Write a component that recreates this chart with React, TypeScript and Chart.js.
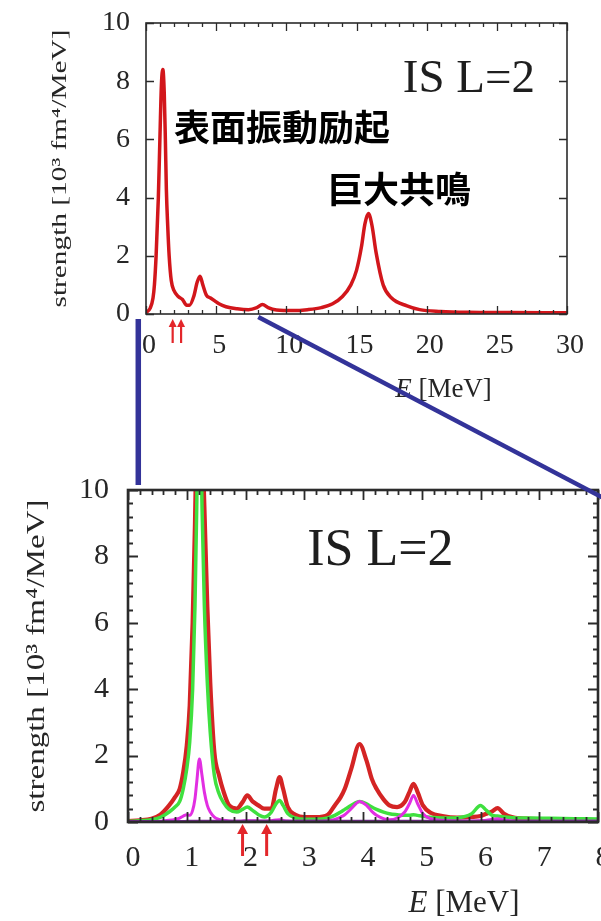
import React, { useEffect, useRef } from "react";
import { Chart, registerables } from "chart.js";

Chart.register(...registerables);

// ---- Overview spectrum, 0–30 MeV ----
const overviewE = [
  0.0, 0.3, 0.5, 0.6, 0.72, 0.88, 1.0, 1.1, 1.2, 1.3, 1.38, 1.45, 1.55, 1.65, 1.8, 2.0,
  2.3, 2.6, 2.9, 3.1, 3.4, 3.65, 3.85, 4.05, 4.3, 4.6, 4.9, 5.2, 5.7, 6.5, 7.3, 7.9,
  8.3, 8.7, 9.3, 10.5, 11.5, 12.5, 13.3, 14.0, 14.6, 15.0, 15.35, 15.6, 15.85, 16.1,
  16.4, 16.9, 17.5, 18.6, 19.5, 21, 23, 26, 30,
];
const overviewStrength = [
  0.05, 0.2, 0.55, 1.0, 2.0, 4.0, 6.2, 7.9, 8.4, 7.6, 6.0, 4.3, 3.0, 2.0, 1.15, 0.8,
  0.6, 0.5, 0.3, 0.3, 0.6, 1.1, 1.3, 1.0, 0.65, 0.55, 0.45, 0.35, 0.25, 0.18, 0.15, 0.22,
  0.33, 0.22, 0.14, 0.12, 0.15, 0.22, 0.35, 0.6, 1.0, 1.5, 2.3, 3.1, 3.45, 3.05,
  2.1, 1.0, 0.55, 0.28, 0.15, 0.09, 0.06, 0.05, 0.04,
];
const overviewArrowE = [1.9, 2.5];
const overviewXTicks = [0, 5, 10, 15, 20, 25, 30];

// ---- Low-energy detail, 0–8 MeV ----
const zoomE = [
  0.0, 0.2, 0.4, 0.55, 0.7, 0.8, 0.88, 0.94, 1.0, 1.05, 1.1, 1.14, 1.17, 1.215, 1.26, 1.3,
  1.35, 1.4, 1.47, 1.55, 1.62, 1.72, 1.85, 1.95, 2.03, 2.12, 2.22, 2.32, 2.44, 2.52, 2.58,
  2.64, 2.72, 2.85, 3.0, 3.2, 3.4, 3.52, 3.62, 3.69, 3.8, 3.94, 4.06, 4.15, 4.23, 4.35,
  4.45, 4.58, 4.71, 4.79, 4.86, 4.93, 5.02, 5.15, 5.35, 5.6, 5.85, 6.0, 6.1, 6.2, 6.29,
  6.4, 6.55, 6.8, 7.2, 7.6, 8.0,
];
const zoomTotal = [
  0.03, 0.05, 0.1, 0.22, 0.5, 0.75, 1.0, 1.5, 2.3, 3.5, 6.0, 9.0, 12, 16, 12, 9.5,
  6.5, 4.2, 2.1, 1.4, 0.95, 0.5, 0.4, 0.6, 0.8, 0.62, 0.5, 0.4, 0.4, 1.0, 1.35,
  1.0, 0.45, 0.22, 0.15, 0.15, 0.22, 0.5, 0.75, 1.0, 1.6, 2.35, 1.85, 1.3, 1.0, 0.68,
  0.5, 0.45, 0.6, 0.9, 1.15, 0.9, 0.5, 0.28, 0.18, 0.13, 0.15, 0.18, 0.25, 0.32, 0.42,
  0.25, 0.14, 0.1, 0.08, 0.06, 0.05,
];
const zoomGreen = [
  0.02, 0.04, 0.07, 0.14, 0.3, 0.45, 0.62, 1.0, 1.6, 2.4, 4.0, 6.5, 9.5, 15, 9.5, 6.5,
  4.2, 2.7, 1.4, 0.85, 0.6, 0.38, 0.3, 0.38, 0.45, 0.35, 0.22, 0.15, 0.3, 0.55, 0.65,
  0.5, 0.25, 0.12, 0.08, 0.08, 0.12, 0.2, 0.3, 0.38, 0.5, 0.62, 0.55, 0.45, 0.38, 0.3,
  0.25, 0.22, 0.2, 0.2, 0.22, 0.2, 0.17, 0.14, 0.12, 0.13, 0.25, 0.5, 0.35, 0.2, 0.18,
  0.15, 0.13, 0.12, 0.11, 0.1, 0.09,
];
const zoomMagenta = [
  0.0, 0.0, 0.01, 0.02, 0.05, 0.08, 0.12, 0.18, 0.22, 0.2, 0.35, 0.7, 1.2, 1.9, 1.4, 0.9,
  0.5, 0.3, 0.15, 0.08, 0.05, 0.03, 0.02, 0.03, 0.04, 0.04, 0.03, 0.03, 0.04, 0.06, 0.07,
  0.05, 0.03, 0.02, 0.02, 0.02, 0.04, 0.08, 0.15, 0.22, 0.4, 0.62, 0.5, 0.32, 0.2, 0.1,
  0.07, 0.12, 0.3, 0.55, 0.8, 0.55, 0.25, 0.1, 0.05, 0.03, 0.03, 0.04, 0.05, 0.08, 0.1,
  0.06, 0.03, 0.02, 0.02, 0.02, 0.02,
];
const zoomPurple = [
  0.02, 0.02, 0.02, 0.02, 0.02, 0.02, 0.02, 0.02, 0.03, 0.03, 0.03, 0.03, 0.03, 0.03, 0.03, 0.03,
  0.03, 0.03, 0.03, 0.03, 0.03, 0.03, 0.03, 0.03, 0.03, 0.03, 0.03, 0.03, 0.03, 0.03, 0.03,
  0.03, 0.03, 0.03, 0.03, 0.03, 0.03, 0.03, 0.03, 0.03, 0.03, 0.03, 0.03, 0.03, 0.03, 0.03,
  0.03, 0.03, 0.03, 0.03, 0.03, 0.03, 0.03, 0.03, 0.03, 0.03, 0.03, 0.03, 0.03, 0.03, 0.03,
  0.03, 0.03, 0.03, 0.03, 0.03, 0.03,
];
const zoomArrowE = [1.95, 2.36];
const zoomXTicks = [0, 1, 2, 3, 4, 5, 6, 7, 8];

const strengthTicks = [0, 2, 4, 6, 8, 10];
const yTitle = "strength [10³ fm⁴/MeV]";
const channelLabel = "IS L=2";
const surfaceLabel = "表面振動励起";
const giantLabel = "巨大共鳴";

const SERIF = "'Liberation Serif', 'Times New Roman', serif";
const CJK = "'Noto Sans CJK JP', 'Noto Sans CJK SC', sans-serif";
const BOTTOM_TOP = 430; // page offset of the detail panel's canvas
const TEXT = "#262626";

type Decor = {
  xMajorStep: number;
  xMinorStep: number;
  yMajorStep: number;
  yMinorStep: number;
  majorLen: number;
  minorLen: number;
  tickWidth: number;
  frameWidth: number;
  titleX: number; // offset left of the chart area
  titleSize: number;
  titleLength: number;
  xTitleDy: number; // below the chart area
  xTitleDx: number; // from chart area centre
  xTitleSize: number;
  arrows: number[];
  arrowTip: number;
  arrowTail: number;
  arrowHead: number;
  arrowHalf: number;
  arrowWidth: number;
  channel: { x: number; y: number; size: number };
  notes?: { text: string; x: number; y: number; size: number }[];
};

const isMultiple = (v: number, step: number) =>
  Math.abs(v / step - Math.round(v / step)) < 1e-6;

function decorPlugin(id: string, d: Decor) {
  return {
    id,
    afterDatasetsDraw(chart: any) {
      const { ctx, chartArea: a } = chart;
      const x = chart.scales.x;
      const y = chart.scales.y;
      ctx.save();
      // inward tick marks on all four sides
      ctx.strokeStyle = "#2b2b2b";
      ctx.lineWidth = d.tickWidth;
      ctx.beginPath();
      for (let v = x.min; v <= x.max + 1e-9; v += d.xMinorStep) {
        const len = isMultiple(v, d.xMajorStep) ? d.majorLen : d.minorLen;
        const px = Math.round(x.getPixelForValue(v)) + 0.5;
        ctx.moveTo(px, a.bottom);
        ctx.lineTo(px, a.bottom - len);
        ctx.moveTo(px, a.top);
        ctx.lineTo(px, a.top + len);
      }
      for (let v = y.min; v <= y.max + 1e-9; v += d.yMinorStep) {
        const len = isMultiple(v, d.yMajorStep) ? d.majorLen : d.minorLen;
        const py = Math.round(y.getPixelForValue(v)) + 0.5;
        ctx.moveTo(a.left, py);
        ctx.lineTo(a.left + len, py);
        ctx.moveTo(a.right, py);
        ctx.lineTo(a.right - len, py);
      }
      ctx.stroke();
      ctx.lineWidth = d.frameWidth;
      ctx.strokeRect(a.left, a.top, a.right - a.left, a.bottom - a.top);
      ctx.restore();
    },
    afterDraw(chart: any) {
      const { ctx, chartArea: a } = chart;
      const x = chart.scales.x;
      const y = chart.scales.y;
      ctx.save();

      // rotated axis title, set to a fixed run length
      ctx.fillStyle = TEXT;
      ctx.font = `${d.titleSize}px ${SERIF}`;
      const w = ctx.measureText(yTitle).width;
      ctx.translate(a.left - d.titleX, (a.top + a.bottom) / 2);
      ctx.rotate(-Math.PI / 2);
      ctx.scale(d.titleLength / w, 1);
      ctx.textAlign = "center";
      ctx.textBaseline = "middle";
      ctx.fillText(yTitle, 0, 0);
      ctx.setTransform(1, 0, 0, 1, 0, 0);

      // horizontal axis title: italic E followed by the unit
      const italic = `italic ${d.xTitleSize}px ${SERIF}`;
      const upright = `${d.xTitleSize}px ${SERIF}`;
      const unit = " [MeV]";
      ctx.font = italic;
      const wE = ctx.measureText("E").width;
      ctx.font = upright;
      const wU = ctx.measureText(unit).width;
      const x0 = (a.left + a.right) / 2 + d.xTitleDx - (wE + wU) / 2;
      const ty = a.bottom + d.xTitleDy;
      ctx.textAlign = "left";
      ctx.textBaseline = "middle";
      ctx.font = italic;
      ctx.fillText("E", x0, ty);
      ctx.font = upright;
      ctx.fillText(unit, x0 + wE, ty);

      // level arrows below the energy axis
      ctx.strokeStyle = "#e3262a";
      ctx.fillStyle = "#e3262a";
      ctx.lineWidth = d.arrowWidth;
      for (const e of d.arrows) {
        const px = x.getPixelForValue(e);
        const tip = a.bottom + d.arrowTip;
        ctx.beginPath();
        ctx.moveTo(px, a.bottom + d.arrowTail);
        ctx.lineTo(px, tip + d.arrowHead - 1);
        ctx.stroke();
        ctx.beginPath();
        ctx.moveTo(px, tip);
        ctx.lineTo(px - d.arrowHalf, tip + d.arrowHead);
        ctx.lineTo(px + d.arrowHalf, tip + d.arrowHead);
        ctx.closePath();
        ctx.fill();
      }

      // channel label
      ctx.fillStyle = "#1e1e1e";
      ctx.font = `${d.channel.size}px ${SERIF}`;
      ctx.textAlign = "left";
      ctx.textBaseline = "alphabetic";
      ctx.fillText(channelLabel, x.getPixelForValue(d.channel.x), y.getPixelForValue(d.channel.y));

      // annotations
      for (const n of d.notes ?? []) {
        ctx.fillStyle = "#000";
        ctx.font = `bold ${n.size}px ${CJK}`;
        ctx.textAlign = "left";
        ctx.textBaseline = "middle";
        ctx.fillText(n.text, x.getPixelForValue(n.x), y.getPixelForValue(n.y));
      }
      ctx.restore();
    },
  };
}

function axisTicks(values: number[]) {
  return (s: any) => {
    s.ticks = values.map((v) => ({ value: v }));
  };
}

function fixed(prop: "width" | "height", size: number) {
  return (s: any) => {
    s[prop] = size;
    s.paddingLeft = 0;
    s.paddingRight = 0;
    s.paddingTop = 0;
    s.paddingBottom = 0;
  };
}

const points = (xs: number[], ys: number[]) => xs.map((e, i) => ({ x: e, y: ys[i] }));

function line(data: number[], color: string, width: number, order: number) {
  return {
    data: points(zoomE, data),
    borderColor: color,
    borderWidth: width,
    pointRadius: 0,
    fill: false,
    cubicInterpolationMode: "monotone" as const,
    order,
  };
}

export default function App() {
  const topRef = useRef<HTMLCanvasElement>(null);
  const botRef = useRef<HTMLCanvasElement>(null);
  const overlayRef = useRef<HTMLCanvasElement>(null);

  useEffect(() => {
    const tickFont = (size: number) => ({ family: SERIF, size });

    const top = new Chart(topRef.current!, {
      type: "line",
      data: {
        datasets: [
          {
            data: points(overviewE, overviewStrength),
            borderColor: "#d2161b",
            borderWidth: 3.5,
            pointRadius: 0,
            fill: false,
            cubicInterpolationMode: "monotone",
          },
        ],
      },
      options: {
        responsive: false,
        animation: false,
        devicePixelRatio: 1,
        layout: { padding: { left: 0, top: 23, right: 34, bottom: 0 } },
        plugins: { legend: { display: false }, tooltip: { enabled: false } },
        scales: {
          x: {
            type: "linear",
            min: 0,
            max: 30,
            afterFit: fixed("height", 106),
            afterBuildTicks: axisTicks(overviewXTicks),
            grid: { display: false, drawTicks: false },
            border: { display: false },
            ticks: { font: tickFont(28), color: TEXT, padding: 15, labelOffset: 3, autoSkip: false, maxRotation: 0 },
          },
          y: {
            type: "linear",
            min: 0,
            max: 10,
            afterFit: fixed("width", 146),
            afterBuildTicks: axisTicks(strengthTicks),
            grid: { display: false, drawTicks: false },
            border: { display: false },
            ticks: { font: tickFont(28), color: TEXT, padding: 16 },
          },
        },
      },
      plugins: [
        decorPlugin("overviewDecor", {
          xMajorStep: 5,
          xMinorStep: 1,
          yMajorStep: 2,
          yMinorStep: 2,
          majorLen: 8,
          minorLen: 4,
          tickWidth: 1.3,
          frameWidth: 1.6,
          titleX: 86,
          titleSize: 22,
          titleLength: 278,
          xTitleDy: 76,
          xTitleDx: 87,
          xTitleSize: 27,
          arrows: overviewArrowE,
          arrowTip: 5,
          arrowTail: 29,
          arrowHead: 8,
          arrowHalf: 4,
          arrowWidth: 2.2,
          channel: { x: 18.3, y: 7.63, size: 47 },
          notes: [
            { text: surfaceLabel, x: 2.0, y: 6.4, size: 36 },
            { text: giantLabel, x: 12.9, y: 4.3, size: 36 },
          ],
        }),
      ],
    } as any);

    const bot = new Chart(botRef.current!, {
      type: "line",
      data: {
        datasets: [
          line(zoomTotal, "#d42424", 4.2, 4),
          line(zoomGreen, "#3fe03f", 3.5, 3),
          line(zoomMagenta, "#e22ee2", 3, 2),
          line(zoomPurple, "#7a2a96", 2.5, 1),
        ],
      },
      options: {
        responsive: false,
        animation: false,
        devicePixelRatio: 1,
        layout: { padding: { left: 0, top: 60, right: 3, bottom: 0 } },
        plugins: { legend: { display: false }, tooltip: { enabled: false } },
        scales: {
          x: {
            type: "linear",
            min: 0,
            max: 8,
            afterFit: fixed("height", 99),
            afterBuildTicks: axisTicks(zoomXTicks),
            grid: { display: false, drawTicks: false },
            border: { display: false },
            ticks: { font: tickFont(30), color: TEXT, padding: 18, labelOffset: 5, autoSkip: false, maxRotation: 0 },
          },
          y: {
            type: "linear",
            min: 0,
            max: 10,
            afterFit: fixed("width", 128),
            afterBuildTicks: axisTicks(strengthTicks),
            grid: { display: false, drawTicks: false },
            border: { display: false },
            ticks: { font: tickFont(30), color: TEXT, padding: 19 },
          },
        },
      },
      plugins: [
        decorPlugin("detailDecor", {
          xMajorStep: 1,
          xMinorStep: 0.2,
          yMajorStep: 2,
          yMinorStep: 0.4,
          majorLen: 10,
          minorLen: 5,
          tickWidth: 1.8,
          frameWidth: 2.6,
          titleX: 91,
          titleSize: 26,
          titleLength: 313,
          xTitleDy: 82,
          xTitleDx: 101,
          xTitleSize: 31,
          arrows: zoomArrowE,
          arrowTip: 2,
          arrowTail: 34,
          arrowHead: 10,
          arrowHalf: 5.5,
          arrowWidth: 3,
          channel: { x: 3.05, y: 7.73, size: 52 },
        }),
      ],
    } as any);

    // connector lines from the overview axis down to the detail panel
    const ov = overlayRef.current!;
    const g = ov.getContext("2d")!;
    g.clearRect(0, 0, ov.width, ov.height);
    const tx = top.scales.x;
    const ty = top.scales.y;
    const bx = bot.scales.x;
    const by = bot.scales.y;
    g.strokeStyle = "#333399";
    g.lineWidth = 5.5;
    g.beginPath();
    const vx = tx.getPixelForValue(-0.55);
    g.moveTo(vx, ty.getPixelForValue(0) + 5);
    g.lineTo(vx, BOTTOM_TOP + by.getPixelForValue(10.15));
    g.stroke();
    g.lineWidth = 4.5;
    g.beginPath();
    g.moveTo(tx.getPixelForValue(8), ty.getPixelForValue(0) + 3);
    g.lineTo(bx.getPixelForValue(8.1), BOTTOM_TOP + by.getPixelForValue(9.75));
    g.stroke();

    return () => {
      top.destroy();
      bot.destroy();
    };
  }, []);

  return (
    <div
      style={{
        position: "absolute",
        left: 0,
        top: 0,
        width: 601,
        height: 921,
        background: "#fff",
        overflow: "hidden",
      }}
    >
      <canvas ref={topRef} width={601} height={420} style={{ position: "absolute", left: 0, top: 0 }} />
      <canvas ref={botRef} width={601} height={491} style={{ position: "absolute", left: 0, top: BOTTOM_TOP }} />
      <canvas
        ref={overlayRef}
        width={601}
        height={921}
        style={{ position: "absolute", left: 0, top: 0, pointerEvents: "none" }}
      />
    </div>
  );
}
